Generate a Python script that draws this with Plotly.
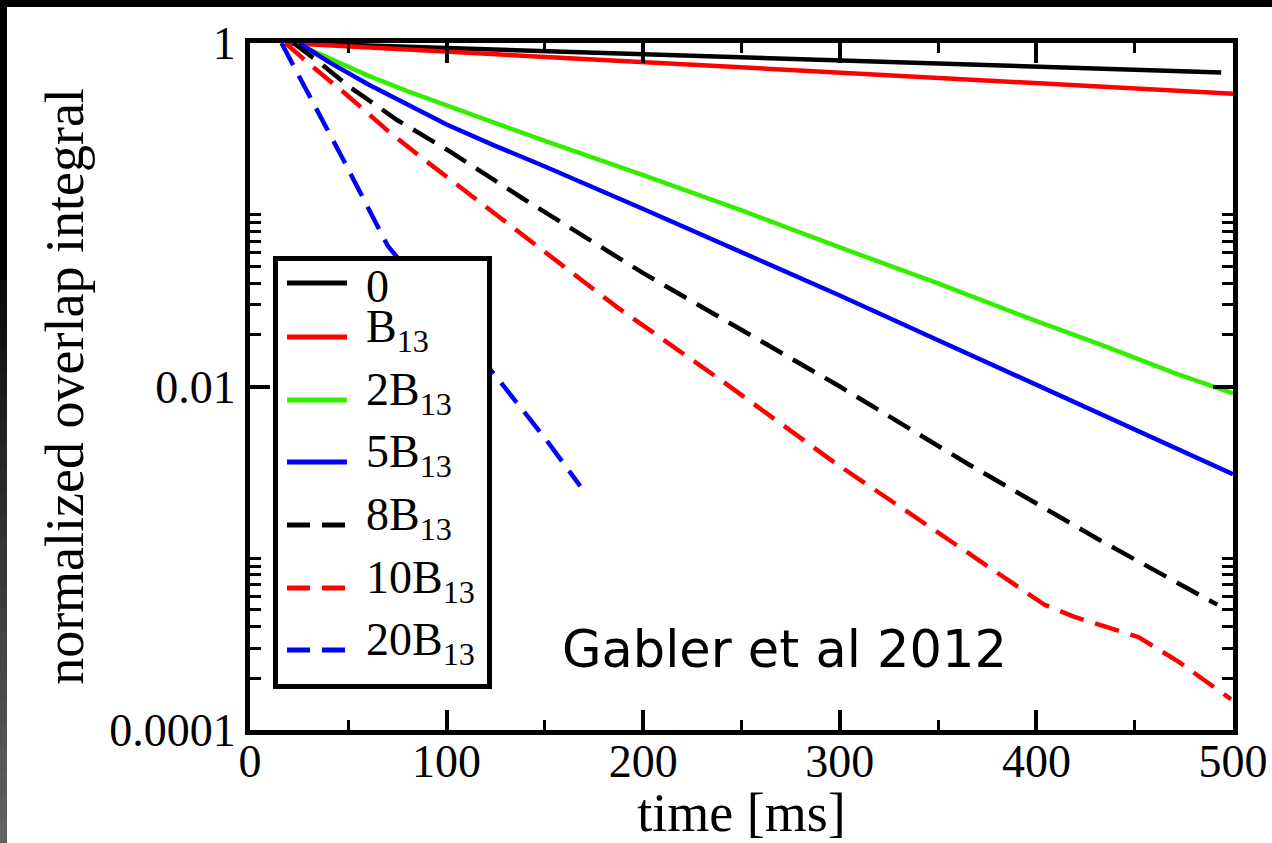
import plotly.graph_objects as go

# ---- data: normalized overlap integral vs time for several field strengths ----
t_0 = [20, 100, 200, 300, 400, 494]
v_0 = [1.0, 0.933, 0.861, 0.794, 0.730, 0.673]

t_b1 = [18, 100, 200, 300, 400, 500]
v_b1 = [1.0, 0.891, 0.780, 0.676, 0.586, 0.507]

t_b2 = [23, 40, 60, 80, 100, 150, 200, 250, 300, 350, 400, 430, 470, 490, 500]
v_b2 = [1.0, 0.813, 0.646, 0.525, 0.432, 0.269, 0.170, 0.106, 0.0646,
        0.0398, 0.0240, 0.0180, 0.0120, 0.0100, 0.00912]

t_b5 = [25, 40, 60, 80, 100, 125, 150, 200, 250, 300, 350, 400, 450, 500]
v_b5 = [1.0, 0.776, 0.575, 0.437, 0.335, 0.251, 0.191, 0.108, 0.0610,
        0.0339, 0.0186, 0.0102, 0.00562, 0.00309]

t_b8 = [22, 35, 50, 75, 100, 138, 200, 250, 300, 365, 433, 492]
v_b8 = [1.0, 0.776, 0.562, 0.355, 0.240, 0.126, 0.0457, 0.0214, 0.0100,
        0.00355, 0.00126, 0.000537]

t_b10 = [18, 30, 50, 70, 88, 140, 187, 239, 297, 355, 404, 419, 440, 452,
         472, 499]
v_b10 = [1.0, 0.759, 0.490, 0.309, 0.212, 0.0741, 0.0288, 0.0110, 0.00363,
         0.00129, 0.000537, 0.000457, 0.000380, 0.000347, 0.000251, 0.000151]

t_b20 = [16, 30, 47, 70, 100, 125, 150, 168]
v_b20 = [1.0, 0.501, 0.214, 0.0661, 0.0251, 0.0115, 0.00501, 0.00263]

names = ["0", "B<sub>13</sub>", "2B<sub>13</sub>", "5B<sub>13</sub>",
         "8B<sub>13</sub>", "10B<sub>13</sub>", "20B<sub>13</sub>"]
colors = ["#000000", "#ff0000", "#33ee00", "#0000ff",
          "#000000", "#ff0000", "#0000ff"]
dashes = ["solid", "solid", "solid", "solid",
          "25px,12px", "25px,12px", "25px,12px"]

y_tickvals = [1e-4, 1e-2, 1]
y_ticktext = ["0.0001", "0.01", "1"]
y_minor = [2e-4, 3e-4, 4e-4, 5e-4, 6e-4, 7e-4, 8e-4, 9e-4, 1e-3,
           2e-2, 3e-2, 4e-2, 5e-2, 6e-2, 7e-2, 8e-2, 9e-2, 1e-1]

series = [(t_0, v_0), (t_b1, v_b1), (t_b2, v_b2), (t_b5, v_b5),
          (t_b8, v_b8), (t_b10, v_b10), (t_b20, v_b20)]

# ---- page geometry ----
W, H = 1272, 843
ML, MR, MT, MB = 250, 39, 43, 113
PW, PH = W - ML - MR, H - MT - MB


def px_x(px):
    return (px - ML) / PW


def px_y(py):
    return 1 - (py - MT) / PH


fig = go.Figure()
for (tx, vy), nm, col, ds in zip(series, names, colors, dashes):
    fig.add_trace(go.Scatter(
        x=tx, y=vy, mode="lines", name=nm, showlegend=False,
        line=dict(color=col, width=4.5, dash=ds),
    ))

serif = "Liberation Serif, Times New Roman, serif"

shapes = []
annotations = []
# dark slide border: top band and a left strip shading from black to grey
shapes.append(dict(type="rect", xref="paper", yref="paper",
                   x0=px_x(-2), x1=px_x(W + 2), y0=px_y(-2), y1=px_y(7),
                   fillcolor="black", line=dict(width=0), layer="below"))
shapes.append(dict(type="rect", xref="paper", yref="paper",
                   x0=px_x(-2), x1=px_x(7), y0=px_y(-2), y1=px_y(281),
                   fillcolor="black", line=dict(width=0), layer="below"))
steps = 24
top_start = 280
for i in range(steps):
    y0 = top_start + (H - top_start) * i / steps
    y1 = top_start + (H - top_start) * (i + 1) / steps + 1
    g = int(10 + 90 * (i + 0.5) / steps)
    shapes.append(dict(type="rect", xref="paper", yref="paper",
                       x0=px_x(-2), x1=px_x(7), y0=px_y(y0), y1=px_y(y1),
                       fillcolor=f"rgb({g},{g},{g})", line=dict(width=0),
                       layer="below"))

# legend box with line samples and labels
leg_left, leg_right, leg_top, leg_bottom = 275.5, 489.5, 258.5, 686.5
shapes.append(dict(type="rect", xref="paper", yref="paper",
                   x0=px_x(leg_left), x1=px_x(leg_right),
                   y0=px_y(leg_top), y1=px_y(leg_bottom),
                   fillcolor="white", line=dict(color="black", width=5),
                   layer="above"))
row_y = [283, 337, 400, 462, 525, 588, 650]
for nm, col, ds, ry in zip(names, colors, dashes, row_y):
    shapes.append(dict(type="line", xref="paper", yref="paper",
                       x0=px_x(287), x1=px_x(347), y0=px_y(ry), y1=px_y(ry),
                       line=dict(color=col, width=5,
                                 dash="23px,12px" if ds != "solid" else "solid"),
                       layer="above"))
    annotations.append(dict(
        x=px_x(364), y=px_y(ry + 3 if nm == "0" else ry - 7),
        xref="paper", yref="paper", text=nm, showarrow=False,
        xanchor="left", yanchor="middle",
        font=dict(family=serif, size=46, color="black"),
    ))

annotations.append(dict(
    x=272, y=-3.53, xref="x", yref="y", text="Gabler et al 2012",
    showarrow=False, font=dict(family="DejaVu Sans, sans-serif", size=51,
                               color="black"),
    xanchor="center", yanchor="middle",
))

fig.update_layout(
    width=W, height=H, autosize=False,
    margin=dict(l=ML, r=MR, t=MT, b=MB, pad=0, autoexpand=False),
    paper_bgcolor="white", plot_bgcolor="white",
    font=dict(family=serif, color="black", size=46),
    shapes=shapes,
    annotations=annotations,
    showlegend=False,
)

fig.update_xaxes(
    range=[0, 500], tickmode="linear", tick0=0, dtick=100,
    ticks="inside", ticklen=20, tickwidth=4, tickcolor="black",
    minor=dict(dtick=50, tick0=0, ticks="inside", ticklen=10, tickwidth=3,
               tickcolor="black"),
    showline=True, linewidth=5, linecolor="black", mirror="allticks",
    showgrid=False, zeroline=False, automargin=False,
    ticklabelstandoff=-13,
    tickfont=dict(family=serif, size=46, color="black"),
    title=dict(text="time [ms]", font=dict(family=serif, size=54,
                                           color="black"), standoff=18),
)
fig.update_yaxes(
    type="log", range=[-4, 0],
    tickmode="array", tickvals=y_tickvals, ticktext=y_ticktext,
    ticks="inside", ticklen=20, tickwidth=4, tickcolor="black",
    minor=dict(tickmode="array", tickvals=y_minor, ticks="inside",
               ticklen=11, tickwidth=3, tickcolor="black"),
    showline=True, linewidth=5, linecolor="black", mirror="allticks",
    showgrid=False, zeroline=False, automargin=False,
    tickfont=dict(family=serif, size=46, color="black"),
    title=dict(text="normalized overlap integral",
               font=dict(family=serif, size=54, color="black"), standoff=10),
)

fig.write_html("out.html")
